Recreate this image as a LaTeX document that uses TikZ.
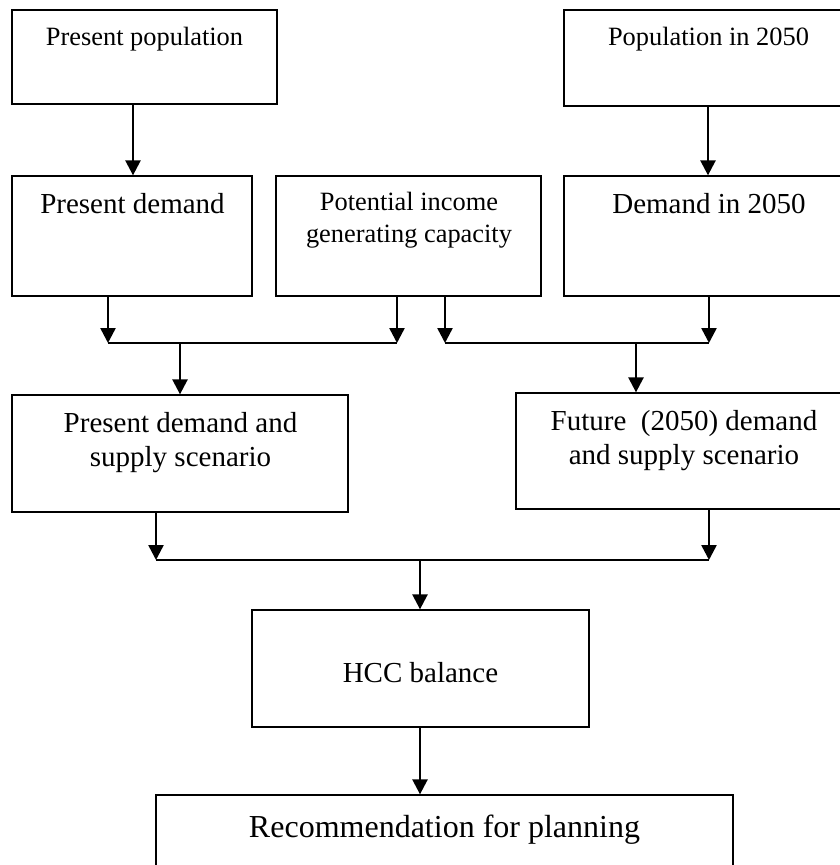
\documentclass[tikz,border=0pt]{standalone}
\usepackage{fontspec}
\setmainfont{Liberation Serif}
\usetikzlibrary{arrows.meta}
\tikzset{
  box/.style={draw=black, line width=1.3pt, rectangle, inner sep=0pt},
  arr/.style={line width=2.5pt, -{Triangle[width=15pt,length=15pt]}},
  bar/.style={line width=1.5pt},
  tsmall/.style={font=\fontsize{26.4}{32}\selectfont, anchor=base, inner sep=0pt, align=center},
  tmid/.style={font=\fontsize{29}{34}\selectfont, anchor=base, inner sep=0pt, align=center},
  tbig/.style={font=\fontsize{32}{38}\selectfont, anchor=base, inner sep=0pt},
}
\begin{document}
\begin{tikzpicture}[x=1pt,y=-1pt]
\useasboundingbox (0,0) rectangle (840,865);
% boxes
\node[box, minimum width=265pt, minimum height=94pt]  (PP)   at (144.5,57) {};
\node[box, minimum width=288pt, minimum height=96pt]  (P50)  at (708,58) {};
\node[box, minimum width=240pt, minimum height=120pt] (PD)   at (132,236) {};
\node[box, minimum width=265pt, minimum height=120pt] (PI)   at (408.5,236) {};
\node[box, minimum width=288pt, minimum height=120pt] (D50)  at (708,236) {};
\node[box, minimum width=336pt, minimum height=117pt] (PDS)  at (180,453.5) {};
\node[box, minimum width=336pt, minimum height=116pt] (FDS)  at (684,451) {};
\node[box, minimum width=337pt, minimum height=117pt] (HCC)  at (420.5,668.5) {};
\node[box, minimum width=577pt, minimum height=110pt] (REC)  at (444.5,850) {};
% texts (base anchor = baseline of last line)
\node[tsmall] (tPP)  at (144.5,45) {Present population};
\node[tsmall] (tP50) at (708.5,45) {Population in 2050};
\node[tmid]   (tPD)  at (132.5,213) {Present demand};
\node[tsmall] (tPI)  at (409,242) {Potential income\\generating capacity};
\node[tmid]   (tD50) at (709,213) {Demand in 2050};
\node[tmid]   (tPDS) at (180.5,466) {Present demand and\\supply scenario};
\node[tmid]   (tFDS) at (684,464) {Future\ \ (2050) demand\\and supply scenario};
\node[tmid]   (tHCC) at (420.5,682) {HCC balance};
\node[tbig]   (tREC) at (444.5,837) {Recommendation for planning};
% junction coordinates
\coordinate (b1) at (108,343);
\coordinate (b2) at (397,343);
\coordinate (b3) at (445,343);
\coordinate (b4) at (709,343);
\coordinate (c1) at (180,343);
\coordinate (c2) at (636,343);
\coordinate (d1) at (156,560);
\coordinate (d2) at (709,560);
\coordinate (d3) at (420,560);
% connectors
\draw[arr] (PP.south) ++(-11.5,0) coordinate (pp1) -- (pp1 |- PD.north);
\draw[arr] (P50.south) -- (D50.north);
\draw[arr] (PD.south -| b1) -- (b1);
\draw[arr] (PI.south -| b2) -- (b2);
\draw[arr] (PI.south -| b3) -- (b3);
\draw[arr] (D50.south -| b4) -- (b4);
\draw[bar] (b1) -- (b2);
\draw[bar] (b3) -- (b4);
\draw[arr] (c1) -- (PDS.north -| c1);
\draw[arr] (c2) -- (FDS.north -| c2);
\draw[arr] (PDS.south -| d1) -- (d1);
\draw[arr] (FDS.south -| d2) -- (d2);
\draw[bar] (d1) -- (d2);
\draw[arr] (d3) -- (HCC.north -| d3);
\draw[arr] (HCC.south -| d3) -- (REC.north -| d3);
\end{tikzpicture}
\end{document}
